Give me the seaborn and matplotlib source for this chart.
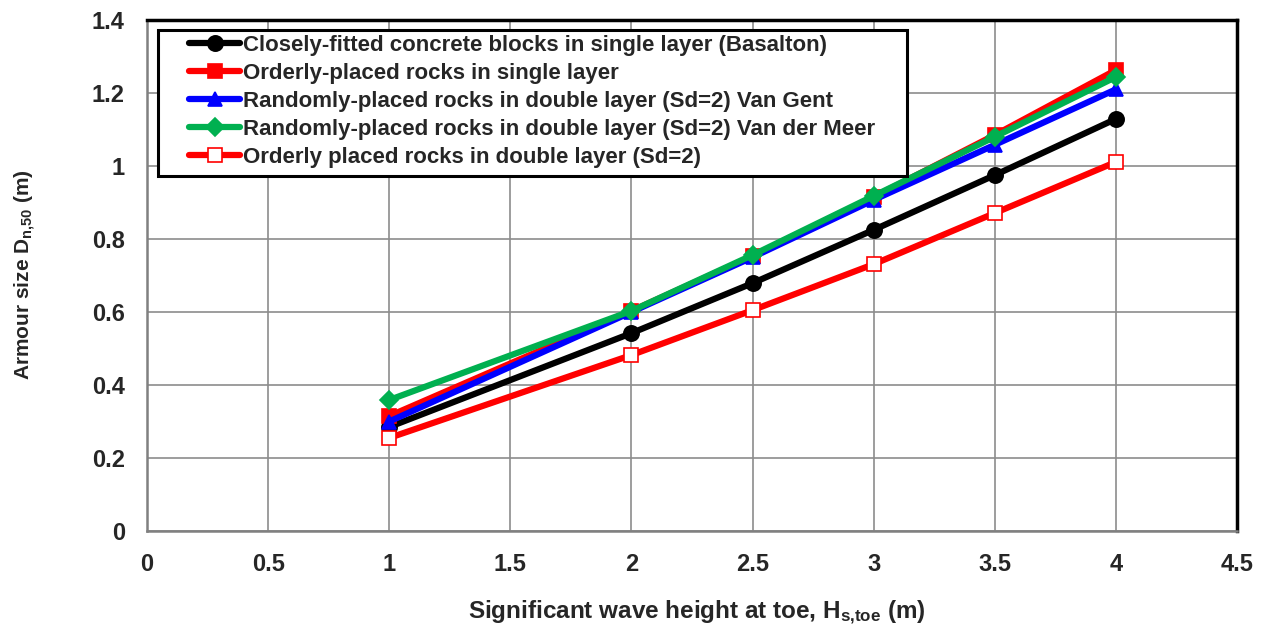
import matplotlib
matplotlib.use("Agg")
import matplotlib.pyplot as plt
from matplotlib.patches import Rectangle
import seaborn as sns
import pandas as pd

# Wave height at toe (m)
hs_toe = [1, 2, 2.5, 3, 3.5, 4]

# Required armour size Dn50 (m) per placement type
basalton = [0.285, 0.542, 0.679, 0.825, 0.975, 1.129]
orderly_single = [0.315, 0.603, 0.753, 0.915, 1.085, 1.263]
random_vangent = [0.300, 0.600, 0.750, 0.907, 1.058, 1.210]
random_vandermeer = [0.359, 0.603, 0.756, 0.918, 1.080, 1.244]
orderly_double = [0.255, 0.482, 0.605, 0.731, 0.871, 1.011]

labels = [
    "Closely-fitted concrete blocks in single layer (Basalton)",
    "Orderly-placed rocks in single layer",
    "Randomly-placed rocks in double layer (Sd=2) Van Gent",
    "Randomly-placed rocks in double layer (Sd=2) Van der Meer",
    "Orderly placed rocks in double layer (Sd=2)",
]
series = [basalton, orderly_single, random_vangent, random_vandermeer, orderly_double]
colors = ["#000000", "#FF0000", "#0000FF", "#00B050", "#FF0000"]
markers = ["o", "s", "^", "D", "s"]
marker_faces = ["#000000", "#FF0000", "#0000FF", "#00B050", "#FFFFFF"]
marker_sizes = [11, 10, 10, 9, 10]
x_ticks = [0, 0.5, 1, 1.5, 2, 2.5, 3, 3.5, 4, 4.5]
y_ticks = [0, 0.2, 0.4, 0.6, 0.8, 1.0, 1.2, 1.4]

sns.set_style("white")
plt.rcParams["font.family"] = ["Liberation Sans", "DejaVu Sans"]
plt.rcParams["font.weight"] = "bold"
plt.rcParams["mathtext.fontset"] = "custom"
plt.rcParams["mathtext.rm"] = "Liberation Sans:bold"
plt.rcParams["mathtext.bf"] = "Liberation Sans:bold"
plt.rcParams["mathtext.it"] = "Liberation Sans:bold"
plt.rcParams["mathtext.default"] = "bf"

W, H = 1267, 627
fig = plt.figure(figsize=(W / 100, H / 100), dpi=100)
ax = fig.add_axes([147 / W, 1 - 531 / H, (1237 - 147) / W, (531 - 20) / H])
AX_W, AX_H = 1237 - 147, 531 - 20

for lab, vals, c, m, fc, ms in zip(labels, series, colors, markers, marker_faces, marker_sizes):
    df = pd.DataFrame({"x": hs_toe, "y": vals})
    sns.lineplot(data=df, x="x", y="y", ax=ax, color=c, linewidth=4.5,
                 marker=m, markersize=ms, markerfacecolor=fc,
                 markeredgecolor=c, markeredgewidth=1.2, label=lab)

ax.set_xlim(0, 4.5)
ax.set_ylim(0, 1.4)
ax.set_xticks(x_ticks)
ax.set_yticks(y_ticks)
ax.set_xticklabels([f"{t:g}" for t in x_ticks])
ax.set_yticklabels([f"{t:g}" for t in y_ticks])
ax.grid(True, color="#8c8c8c", linewidth=1.2)
ax.set_axisbelow(True)

for side in ["left", "bottom"]:
    ax.spines[side].set_color("#808080")
    ax.spines[side].set_linewidth(1.8)
for side in ["top", "right"]:
    ax.spines[side].set_color("#000000")
    ax.spines[side].set_linewidth(2.5)

ax.tick_params(axis="both", direction="out", length=4, width=1.2, color="#808080",
               labelsize=17)
ax.tick_params(axis="x", pad=12)
ax.tick_params(axis="y", pad=12)
for lbl in ax.get_xticklabels() + ax.get_yticklabels():
    lbl.set_fontweight("bold")

ax.set_xlabel("Significant wave height at toe, H$_{s{,}toe}$ (m)",
              fontsize=17.5, fontweight="bold")
ax.xaxis.set_label_coords((697 - 147) / AX_W, (531 - 599) / AX_H)
ax.set_ylabel("Armour size D$_{n{,}50}$ (m)", fontsize=15, fontweight="bold")
ax.yaxis.set_label_coords((38 - 147) / AX_W, (531 - 275) / AX_H)

# Legend entries without their own frame; a boxed panel is drawn behind them
leg = ax.legend(loc="upper left", bbox_to_anchor=((189 - 147) / AX_W, (531 - 35) / AX_H),
                frameon=False, prop={"weight": "bold", "size": 16}, handlelength=2.3,
                handletextpad=0.15, borderpad=0, labelspacing=0.31,
                borderaxespad=0)
leg.set_zorder(6)
ax.add_patch(Rectangle(((158 - 147) / AX_W, (531 - 176) / AX_H),
                       (907 - 158) / AX_W, (176 - 30) / AX_H,
                       transform=ax.transAxes, facecolor="white",
                       edgecolor="black", linewidth=2.2, zorder=5.5))

fig.savefig("out.png", dpi=100)
